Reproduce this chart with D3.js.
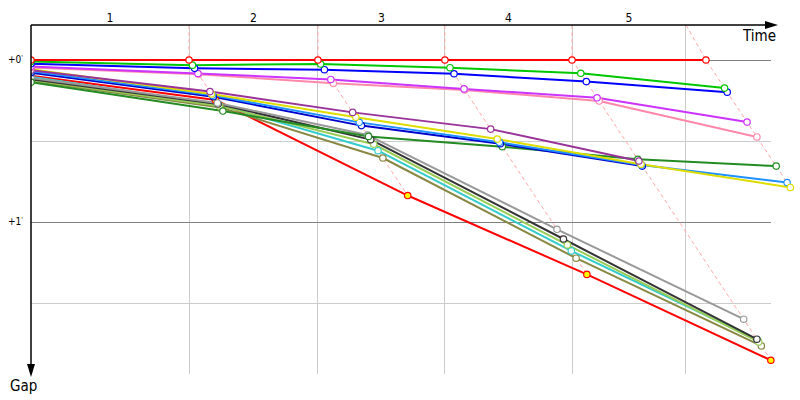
<!DOCTYPE html>
<html><head><meta charset="utf-8">
<script src="https://cdn.jsdelivr.net/npm/d3@7"></script>
<style>body{margin:0;background:#fff}svg{display:block}text{font-family:"DejaVu Sans Condensed","DejaVu Sans",sans-serif}</style>
</head><body>
<svg id="c" width="800" height="400"></svg>
<script>
// lap boundary marks (seconds) – vertical grid lines and lap label bands
const lapMarks = [88.4, 160.5, 231.5, 302.6, 366.3];
const lapLabels = ["1", "2", "3", "4", "5"];
// leader time at each lap (lap 0 = start)
const lapTimes = [0, 88.4, 160.5, 231.5, 302.6, 377.5];
// gap grid (seconds) and labels
const gapGrid = [0, 30, 60, 90];
const gapLabels = [{v: 0, t: "+0"}, {v: 60, t: "+1"}];

// gap to leader (seconds) per lap, lap 0 = start
const names  = ["red","green","blue","magenta","pink","purple","yellow","lightblue","navy","darkgreen","gray","black","lightgreen","cyan","olive","red2"];
const colors = ["#ff0000","#00c800","#0000ff","#cc33ff","#ff88aa","#993399","#dddd00","#1e90ff","#0000cc","#228b22","#999999","#333333","#99cc55","#33cccc","#888844","#ff0000"];
const fills  = ["#fff","#fff","#fff","#fff","#fff","#fff","#fff","#fff","#fff","#fff","#fff","#fff","#fff","#fff","#fff","#ffff00"];
const gRed        = [0, 0, 0, 0, 0, 0];
const gGreen      = [0.6, 1.9, 1.5, 2.85, 4.9, 10.4];
const gBlue       = [1.4, 3.1, 3.6, 5.1, 8.0, 11.9];
const gMagenta    = [2.4, 5.0, 7.2, 10.7, 14.0, 23.0];
const gPink       = [2.8, 5.3, 8.6, 11.1, 15.2, 28.5];
const gPurple     = [3.8, 11.7, 19.4, 25.6, 37.4];
const gYellow     = [3.4, 12.6, 21.2, 29.3, 38.6, 47.2];
const gLightblue  = [4.2, 13.1, 23.1, 30.5, 38.9, 45.4];
const gNavy       = [4.7, 13.6, 24.3, 31.0, 39.3];
const gDarkgreen  = [8.2, 18.9, 28.3, 32.1, 36.8, 39.3];
const gGray       = [6.7, 15.9, 27.8, 62.7, 96.0];
const gBlack      = [7.1, 16.3, 29.5, 66.3, 103.4];
const gLightgreen = [7.4, 17.0, 31.2, 68.5, 104.4];
const gCyan       = [6.2, 16.6, 33.6, 70.7, 103.7];
const gOlive      = [7.8, 17.6, 36.3, 73.4, 105.9];
const gRed2       = [5.8, 14.8, 50.2, 79.4, 111.2];
const gaps = [gRed,gGreen,gBlue,gMagenta,gPink,gPurple,gYellow,gLightblue,gNavy,gDarkgreen,gGray,gBlack,gLightgreen,gCyan,gOlive,gRed2];

const svg = d3.select("#c");
const xs = d3.scaleLinear().domain([0, 414]).range([31, 771.2]);
const ys = d3.scaleLinear().domain([0, 60]).range([60, 222]);
const yTop = ys(-13), yGridBottom = ys(116.3), yAxisEnd = ys(117);
const px = (lap, g) => lap === 0 ? xs(0) : xs(lapTimes[lap] + g);

svg.append("defs").append("clipPath").attr("id", "clip")
  .append("rect").attr("x", xs(0)).attr("y", 0).attr("width", 800).attr("height", 400);

// grid
const grid = svg.append("g");
grid.selectAll("line.v").data(lapMarks).join("line")
  .attr("x1", d => xs(d)).attr("x2", d => xs(d)).attr("y1", yTop).attr("y2", yGridBottom)
  .attr("stroke", "#cccccc").attr("stroke-width", 1).attr("shape-rendering", "crispEdges");
grid.selectAll("line.h").data(gapGrid).join("line")
  .attr("x1", xs(0)).attr("x2", xs(414)).attr("y1", d => ys(d)).attr("y2", d => ys(d))
  .attr("stroke", d => d % 60 === 0 ? "#808080" : "#cccccc").attr("stroke-width", 1)
  .attr("shape-rendering", "crispEdges");

// lap labels
const bounds = [0].concat(lapMarks);
svg.selectAll("text.lap").data(lapLabels).join("text")
  .attr("x", (d, i) => (xs(bounds[i]) + xs(bounds[i + 1])) / 2).attr("y", 22)
  .attr("text-anchor", "middle").attr("font-size", 12).attr("fill", "#000").text(d => d);

// gap labels
const gl = svg.selectAll("text.gap").data(gapLabels).join("text")
  .attr("x", 8).attr("y", d => ys(d.v) + 3).attr("font-size", 10).attr("fill", "#000");
gl.append("tspan").text(d => d.t);
gl.append("tspan").attr("font-size", 7).attr("dy", -3).text("'");

// dashed lap lines
const lapLine = d3.line().x(d => d[0]).y(d => d[1]);
lapMarks.forEach((m, k) => {
  const lap = k + 1;
  const pts = [];
  gaps.forEach(g => { if (g.length > lap) pts.push([px(lap, g[lap]), ys(g[lap])]); });
  pts.sort((a, b) => a[1] - b[1]);
  pts.unshift([xs(m), yTop]);
  svg.append("path").attr("d", lapLine(pts)).attr("fill", "none")
    .attr("stroke", "#ffaaaa").attr("stroke-width", 1).attr("stroke-dasharray", "4,3");
});

// driver lines
const plot = svg.append("g").attr("clip-path", "url(#clip)");
const order = d3.range(gaps.length).reverse();
const line = d3.line().x((d, i) => px(i, d)).y(d => ys(d));
order.forEach(i => {
  plot.append("path").datum(gaps[i]).attr("d", line).attr("fill", "none")
    .attr("stroke", colors[i]).attr("stroke-width", 2).attr("stroke-linejoin", "round");
});
order.forEach(i => {
  plot.selectAll(null).data(gaps[i]).join("circle")
    .attr("cx", (d, j) => px(j, d)).attr("cy", d => ys(d)).attr("r", 3.2)
    .attr("fill", fills[i]).attr("stroke", colors[i]).attr("stroke-width", 1.2);
});

// axes
svg.append("line").attr("x1", xs(0)).attr("x2", 770).attr("y1", yTop).attr("y2", yTop)
  .attr("stroke", "#000").attr("stroke-width", 1.5);
svg.append("path").attr("d", `M778,${yTop}L765,${yTop - 4}L765,${yTop + 4}Z`).attr("fill", "#000");
svg.append("line").attr("x1", xs(0)).attr("x2", xs(0)).attr("y1", yTop).attr("y2", yAxisEnd - 8)
  .attr("stroke", "#000").attr("stroke-width", 1.5);
svg.append("path").attr("d", `M${xs(0)},${yAxisEnd + 1}L${xs(0) - 4},${yAxisEnd - 12}L${xs(0) + 4},${yAxisEnd - 12}Z`).attr("fill", "#000");
svg.append("text").attr("x", 776).attr("y", 41).attr("text-anchor", "end").attr("font-size", 15).text("Time");
svg.append("text").attr("x", 10).attr("y", 391).attr("font-size", 15).text("Gap");
</script>
</body></html>
